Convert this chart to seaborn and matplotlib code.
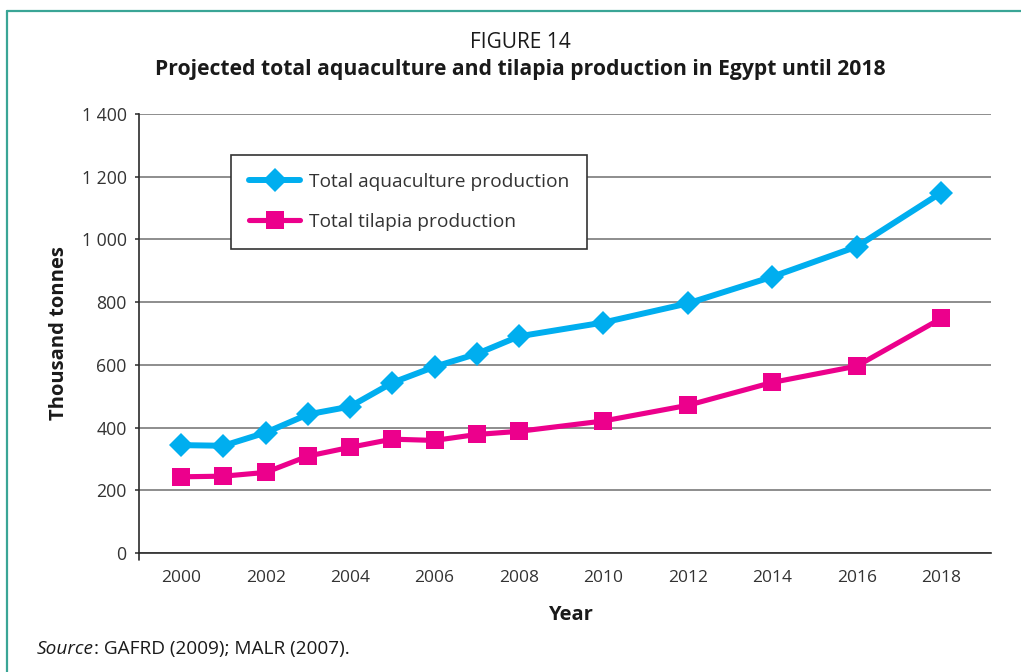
import matplotlib
matplotlib.use("Agg")
import matplotlib.pyplot as plt
from matplotlib.lines import Line2D
import seaborn as sns
import pandas as pd

years = [2000, 2001, 2002, 2003, 2004, 2005, 2006, 2007, 2008, 2010, 2012, 2014, 2016, 2018]
aquaculture = [344, 342, 384, 442, 467, 543, 594, 635, 691, 735, 796, 881, 977, 1149]
tilapia = [243, 245, 257, 309, 337, 363, 359, 378, 388, 421, 471, 544, 596, 748]
series_names = ["Total aquaculture production", "Total tilapia production"]
x_ticks = [2000, 2002, 2004, 2006, 2008, 2010, 2012, 2014, 2016, 2018]
y_ticks = [0, 200, 400, 600, 800, 1000, 1200, 1400]
y_tick_labels = ["0", "200", "400", "600", "800", "1 000", "1 200", "1 400"]

sns.set_theme(style="white")
plt.rcParams["font.family"] = ["Open Sans", "DejaVu Sans"]

BLUE = "#00aeef"
PINK = "#ec008c"
TEXT = "#333333"

fig = plt.figure(figsize=(10.21, 6.72), dpi=100)
ax = fig.add_axes([139 / 1021, 1 - 553 / 672, (991 - 139) / 1021, (553 - 114) / 672])

df = pd.DataFrame({"Year": years, series_names[0]: aquaculture, series_names[1]: tilapia})

sns.lineplot(data=df, x="Year", y=series_names[0], ax=ax, color=BLUE, lw=4.3,
             marker="D", markersize=12, markeredgewidth=0, label=series_names[0], zorder=3)
sns.lineplot(data=df, x="Year", y=series_names[1], ax=ax, color=PINK, lw=3.7,
             marker="s", markersize=13.5, markeredgewidth=0, label=series_names[1], zorder=3)

ax.set_xlim(1999, 2019.18)
ax.set_ylim(0, 1400)
ax.set_xticks(x_ticks)
ax.set_xticklabels([str(t) for t in x_ticks])
ax.set_yticks(y_ticks)
ax.set_yticklabels(y_tick_labels)

ax.yaxis.grid(True, color="#6f6f6f", lw=1.1, zorder=0)
ax.xaxis.grid(False)
for s in ["top", "right"]:
    ax.spines[s].set_visible(False)
for s in ["left", "bottom"]:
    ax.spines[s].set_color("#2a2a2a")
    ax.spines[s].set_linewidth(1.2)

ax.tick_params(axis="y", which="both", left=True, length=3, width=1.1, color="#2a2a2a",
               pad=6, labelsize=12.7, labelcolor=TEXT)
ax.tick_params(axis="x", which="both", bottom=False, length=0, pad=12,
               labelsize=12.5, labelcolor=TEXT)
# small extension of the y axis below zero
ax.plot([0, 0], [0, -0.016], transform=ax.transAxes, color="#2a2a2a", lw=1.2, clip_on=False)

ax.set_ylabel("Thousand tonnes", fontsize=14.5, fontweight="bold", color="#1a1a1a")
ax.yaxis.label.set_va("center")
ax.yaxis.set_label_coords((59 - 139) / 852, 0.5)
ax.set_xlabel("Year", fontsize=14.5, fontweight="bold", color="#1a1a1a")
ax.xaxis.label.set_va("center")
ax.xaxis.set_label_coords((570 - 139) / 852, (553 - 615) / 439)

leg = ax.legend(loc="upper left", bbox_to_anchor=((231 - 139) / 852, (553 - 155) / 439),
                borderaxespad=0, frameon=True, fancybox=False, fontsize=13.8,
                handlelength=2.65, handletextpad=0.47, labelspacing=1.12,
                borderpad=0.95, labelcolor=TEXT)
leg.get_frame().set_edgecolor("#333333")
leg.get_frame().set_linewidth(1.2)
leg.get_frame().set_facecolor("white")
leg.get_frame().set_alpha(1)

fig.text(520 / 1021, 1 - 42 / 672, "FIGURE 14", ha="center", va="center",
         fontsize=15, color="#1a1a1a")
fig.text(520 / 1021, 1 - 70 / 672, "Projected total aquaculture and tilapia production in Egypt until 2018",
         ha="center", va="center", fontsize=15.2, fontweight="bold", color="#1a1a1a")

src_y = 1 - 654 / 672
src = fig.text(37 / 1021, src_y, "Source", ha="left", va="baseline",
               fontsize=13.7, style="italic", color="#1a1a1a")
fig.canvas.draw()
bb = src.get_window_extent(renderer=fig.canvas.get_renderer())
fig.text(bb.x1 / fig.bbox.width, src_y, ": GAFRD (2009); MALR (2007).", ha="left", va="baseline",
         fontsize=13.7, color="#1a1a1a")

TEAL = "#3aa596"
fig.add_artist(Line2D([7 / 1021, 1], [1 - 11 / 672, 1 - 11 / 672], transform=fig.transFigure,
                      color=TEAL, lw=1.6))
fig.add_artist(Line2D([7 / 1021, 7 / 1021], [0, 1 - 11 / 672], transform=fig.transFigure,
                      color=TEAL, lw=1.6))

fig.savefig("out.png", dpi=100, facecolor="white")
